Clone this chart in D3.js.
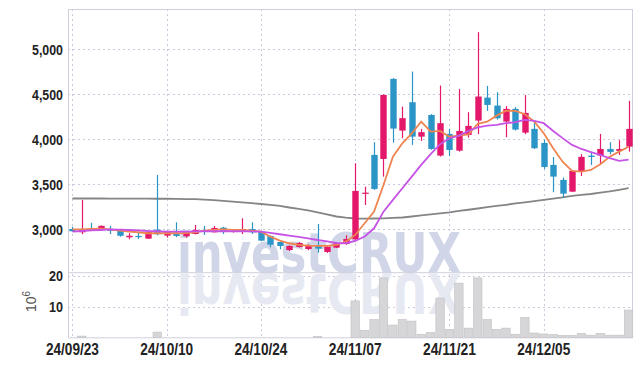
<!DOCTYPE html>
<html>
<head>
<meta charset="utf-8">
<script src="https://cdn.jsdelivr.net/npm/d3@7"></script>
<style>
  body { margin: 0; background: #fff; }
  .lbl { font-family: "Liberation Sans", Arial, sans-serif; font-weight: bold; fill: #222; }
</style>
</head>
<body>
<div id="chart"></div>
<script>
// trading days
var dates = ["24/09/23","24/09/24","24/09/25","24/09/26","24/09/27","24/09/30","24/10/02","24/10/04","24/10/07","24/10/08",
  "24/10/10","24/10/11","24/10/14","24/10/15","24/10/16","24/10/17","24/10/18","24/10/21","24/10/22","24/10/23",
  "24/10/24","24/10/25","24/10/28","24/10/29","24/10/30","24/10/31","24/11/01","24/11/04","24/11/05","24/11/06",
  "24/11/07","24/11/08","24/11/11","24/11/12","24/11/13","24/11/14","24/11/15","24/11/18","24/11/19","24/11/20",
  "24/11/21","24/11/22","24/11/25","24/11/26","24/11/27","24/11/28","24/11/29","24/12/02","24/12/03","24/12/04",
  "24/12/05","24/12/06","24/12/09","24/12/10","24/12/11","24/12/12","24/12/13","24/12/16","24/12/17","24/12/18"];

var tickDates = ["24/09/23","24/10/10","24/10/24","24/11/07","24/11/21","24/12/05"];
var priceTicks = [3000, 3500, 4000, 4500, 5000];
var volTicks = [10, 20];

var open  = [3005,2969,3010,3010,3005,2987,2913,2928,2898,2998, 2931,2958,2924,2950,2995,2969,3020,2972,2972,3005,
             2972,2928,2861,2772,2805,2783,2825,2750,2798,2839, 2891,3395,3828,3783,4672,4098,4413,4031,4272,3820,
             4061,3875,4050,4209,4464,4376,4198,4339,4075,4117, 3961,3717,3550,3420,3642,3820,3820,3894,3872,3920];
var high  = [3030,3328,3075,3045,3040,2990,2958,2965,2975,3605, 2985,3080,2980,3050,3040,3039,3030,3000,3124,3080,
             2980,2935,2865,2825,2860,2835,3061,2815,2860,2935, 3735,3475,3969,4500,4680,4364,4753,4117,4280,4598,
             4117,4558,4302,5191,4594,4524,4369,4360,4491,4205, 3998,3805,3576,3660,3836,3864,4061,3969,3991,4428];
var low   = [2975,2948,2995,3005,2950,2920,2891,2895,2895,2935, 2910,2915,2910,2945,2940,2965,2950,2965,2950,2950,
             2870,2802,2780,2760,2800,2770,2742,2740,2795,2830, 2885,3272,3440,3587,3964,4013,3939,3983,3885,3810,
             3817,3865,4020,4058,4317,4220,4024,4100,4058,3895, 3672,3413,3353,3415,3594,3716,3725,3835,3828,3864];
var close = [2980,3005,3000,3040,2985,2930,2930,2917,2972,2947, 2980,2928,2969,2995,2975,3017,2976,2987,3005,2968,
             2876,2831,2817,2817,2850,2825,2787,2809,2847,2894, 3428,3409,3450,4494,4120,4236,4031,4080,3894,4180,
             3883,4094,4150,4476,4383,4235,4339,4109,4294,3902, 3694,3587,3398,3650,3806,3805,3894,3861,3894,4117];

// moving averages
var ma5   = [3000,3000,3006,3009,3000,2987,2975,2969,2958,2958, 2958,2958,2961,2969,2987,2994,3002,2994,2994,2987,
             2975,2920,2876,2847,2828,2820,2817,2817,2828,2864, 2939,3069,3198,3494,3808,3957,4068,4197,4086,4094,
             4030,4042,4056,4172,4197,4264,4319,4316,4280,4197, 4068,3902,3753,3650,3642,3661,3724,3808,3864,3919];
var ma20  = [2976,2983,2989,2994,3000,2998,2994,2989,2983,2980, 2976,2976,2976,2978,2980,2980,2980,2980,2980,2978,
             2976,2961,2947,2931,2917,2900,2883,2867,2850,2847, 2872,2922,3013,3198,3328,3458,3586,3717,3836,3947,
             4013,4042,4094,4133,4153,4161,4180,4191,4216,4205, 4180,4094,4014,3939,3894,3858,3828,3791,3761,3775];
var ma120 = [3344,3344,3344,3344,3343,3343,3343,3342,3342,3341, 3341,3340,3338,3336,3331,3326,3318,3309,3300,3292,
             3283,3272,3261,3244,3228,3211,3189,3167,3144,3131, 3122,3121,3122,3124,3128,3133,3144,3156,3167,3178,
             3189,3206,3219,3233,3247,3261,3274,3289,3302,3314, 3328,3342,3357,3372,3383,3394,3409,3422,3439,3458];

// volume, millions of shares
var volume = [0,0.4,0,0,0,0,0,0,0,1.7, 0,0,0,0,0,0,0,0,0,0,
              0,0,0,0,0,0,0.3,0,0,0, 11.9,2.3,5.8,19.4,4.0,5.8,5.3,1.0,1.6,12.8,
              2.6,17.7,3.0,19.4,5.8,2.6,3.0,1.0,6.5,1.4, 1.1,0.9,0.6,0.6,1.3,0.7,1.3,0.7,0.7,8.9];

var svgWidth = 642, svgHeight = 366;
var plotLeft = 68, plotRight = 633, plotTop = 9, split = 272.7, plotBottom = 337.3;

var svg = d3.select("#chart").append("svg")
  .attr("width", svgWidth)
  .attr("height", svgHeight);

var x = d3.scaleBand().domain(dates).range([plotLeft - 0.3, plotRight + 0.3]);
var xc = function(d) { return x(d) + x.bandwidth() / 2; };
var y = d3.scaleLinear().domain([2520, 5448]).range([split, plotTop]);
var yv = d3.scaleLinear().domain([0, 21.1]).range([plotBottom, split]);

var gridColor = "#c9cbdc";

// gridlines
svg.append("g").selectAll("line").data(priceTicks).enter().append("line")
  .attr("x1", plotLeft).attr("x2", plotRight)
  .attr("y1", d => Math.round(y(d)) + 0.5).attr("y2", d => Math.round(y(d)) + 0.5)
  .attr("stroke", gridColor).attr("stroke-dasharray", "2,3");

svg.append("g").selectAll("line").data(volTicks).enter().append("line")
  .attr("x1", plotLeft).attr("x2", plotRight)
  .attr("y1", d => Math.round(yv(d)) + 0.5).attr("y2", d => Math.round(yv(d)) + 0.5)
  .attr("stroke", gridColor).attr("stroke-dasharray", "2,3");

svg.append("g").selectAll("line").data(tickDates).enter().append("line")
  .attr("x1", d => Math.round(xc(d)) + 0.5).attr("x2", d => Math.round(xc(d)) + 0.5)
  .attr("y1", plotTop).attr("y2", plotBottom)
  .attr("stroke", gridColor).attr("stroke-dasharray", "2,3");

// watermark + its reflection
var wm = svg.append("g");
wm.append("text")
  .attr("x", 177).attr("y", 272)
  .attr("textLength", 284).attr("lengthAdjust", "spacingAndGlyphs")
  .style("font-family", "DejaVu Sans").style("font-weight", "bold").style("font-size", "55px")
  .style("fill", "#d0d6e8")
  .text("investCRUX");
wm.append("text")
  .attr("transform", "translate(0,546) scale(1,-1)")
  .attr("x", 177).attr("y", 272)
  .attr("textLength", 284).attr("lengthAdjust", "spacingAndGlyphs")
  .style("font-family", "DejaVu Sans").style("font-weight", "bold").style("font-size", "55px")
  .style("fill", "#e6e9f2")
  .text("investCRUX");

// white out reflection below the volume panel
svg.append("rect").attr("x", 0).attr("y", plotBottom).attr("width", svgWidth)
  .attr("height", svgHeight - plotBottom).attr("fill", "#fff");

// frame
var frame = "#cfd0dc";
svg.append("rect").attr("x", plotLeft + 0.5).attr("y", plotTop + 0.5)
  .attr("width", plotRight - plotLeft - 1).attr("height", plotBottom - plotTop)
  .attr("fill", "none").attr("stroke", frame);
svg.append("line").attr("x1", plotLeft).attr("x2", plotRight)
  .attr("y1", split).attr("y2", split).attr("stroke", frame);

// volume bars
svg.append("g").selectAll("rect").data(dates).enter().append("rect")
  .attr("x", d => x(d) + 0.5)
  .attr("width", x.bandwidth() - 1)
  .attr("y", (d, i) => yv(volume[i]))
  .attr("height", (d, i) => plotBottom - yv(volume[i]))
  .attr("fill", "#d6d6d8").attr("stroke", "#c0c0c4").attr("stroke-width", 0.6);

// moving average lines
function maLine(arr, color, w) {
  svg.append("path")
    .datum(dates)
    .attr("fill", "none")
    .attr("stroke", color)
    .attr("stroke-width", w)
    .attr("d", d3.line().x(d => xc(d)).y((d, i) => y(arr[i])));
}
maLine(ma120, "#858585", 1.8);

// candles
var upColor = "#e3186b", downColor = "#2c95c7";
var candles = svg.append("g").selectAll("g").data(dates).enter().append("g");
candles.append("line")
  .attr("x1", d => Math.round(xc(d)) + 0.5).attr("x2", d => Math.round(xc(d)) + 0.5)
  .attr("y1", (d, i) => y(high[i])).attr("y2", (d, i) => y(low[i]))
  .attr("stroke", (d, i) => close[i] >= open[i] ? upColor : downColor)
  .attr("stroke-width", 1.2);
candles.append("rect")
  .attr("x", d => Math.round(xc(d)) + 0.5 - 3.2)
  .attr("width", 6.4)
  .attr("y", (d, i) => y(Math.max(open[i], close[i])))
  .attr("height", (d, i) => Math.max(1.2, Math.abs(y(open[i]) - y(close[i]))))
  .attr("fill", (d, i) => close[i] >= open[i] ? upColor : downColor);

maLine(ma5, "#ee8550", 1.8);
maLine(ma20, "#c653e6", 1.8);

// axis labels (narrowed to match the condensed face)
svg.append("g").selectAll("text").data(priceTicks).enter().append("text")
  .attr("class", "lbl")
  .attr("x", 63).attr("y", d => y(d))
  .attr("dy", "0.36em")
  .attr("text-anchor", "end")
  .attr("textLength", 31).attr("lengthAdjust", "spacingAndGlyphs")
  .style("font-size", "15px")
  .text(d => d3.format(",")(d));

svg.append("g").selectAll("text").data(volTicks).enter().append("text")
  .attr("class", "lbl")
  .attr("x", 63).attr("y", d => yv(d))
  .attr("dy", "0.36em")
  .attr("text-anchor", "end")
  .attr("textLength", 14).attr("lengthAdjust", "spacingAndGlyphs")
  .style("font-size", "15px")
  .text(d => d);

svg.append("g").selectAll("text").data(tickDates).enter().append("text")
  .attr("class", "lbl")
  .attr("x", d => xc(d)).attr("y", 355)
  .attr("text-anchor", "middle")
  .attr("textLength", 53).attr("lengthAdjust", "spacingAndGlyphs")
  .style("font-size", "16px")
  .text(d => d);

// 10^6 unit label
var unit = svg.append("text")
  .attr("transform", "translate(36,312) rotate(-90)")
  .style("font-family", "Liberation Sans, Arial, sans-serif")
  .style("font-size", "14px")
  .style("fill", "#555");
unit.append("tspan").text("10");
unit.append("tspan").attr("dy", "-6").style("font-size", "10px").text("6");
</script>
</body>
</html>
